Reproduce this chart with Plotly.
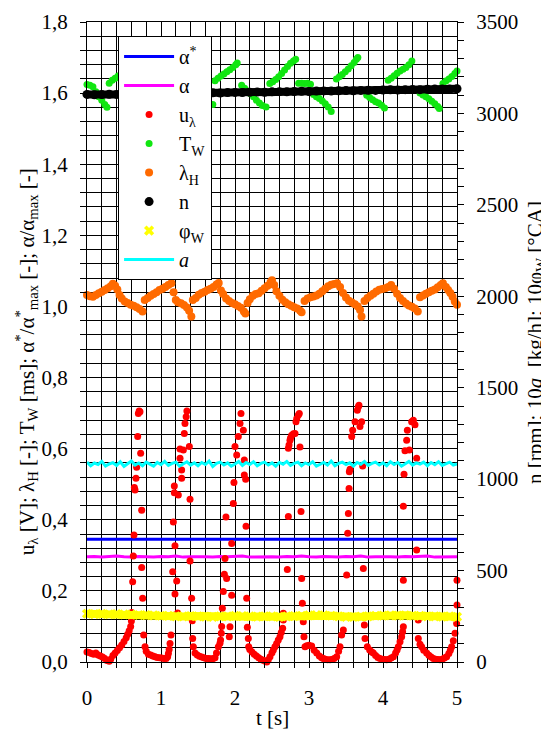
import plotly.graph_objects as go

# ---------------- data ----------------
# alpha* (setpoint) and alpha, left axis [-]
alpha_star = [0.345, 0.345]
alpha = [0.296, 0.297, 0.295, 0.296, 0.298, 0.296, 0.295, 0.297, 0.296, 0.295,
         0.297, 0.296, 0.298, 0.295, 0.296, 0.297, 0.296, 0.295, 0.297, 0.296,
         0.296, 0.298, 0.295, 0.296, 0.297, 0.296, 0.295, 0.297, 0.296, 0.298,
         0.296, 0.295, 0.297, 0.296, 0.295, 0.297, 0.296, 0.298, 0.295, 0.296,
         0.297, 0.296, 0.295, 0.297, 0.296, 0.296, 0.298, 0.295, 0.296, 0.297, 0.296]

# u_lambda [V] (time [s], value)
u_t = [0.00, 0.03, 0.06, 0.09, 0.12, 0.15, 0.18, 0.21, 0.24, 0.27, 0.30, 0.32, 0.35, 0.38, 0.41, 0.44, 0.47, 0.50, 0.53, 0.55, 0.57, 0.59, 0.60,
       0.604, 0.617, 0.626, 0.635, 0.640, 0.649, 0.662, 0.671, 0.685, 0.694, 0.705, 0.716, 0.725, 0.739, 0.739, 0.752, 0.766, 0.784,
       0.80, 0.83, 0.86, 0.89, 0.92, 0.95, 0.98, 1.01, 1.04, 1.07, 1.09, 1.10, 1.11, 1.122, 1.135,
       1.158, 1.167, 1.180, 1.180, 1.189, 1.189, 1.212, 1.225, 1.234, 1.257, 1.257, 1.279, 1.279, 1.302, 1.315, 1.324, 1.340, 1.350, 1.383, 1.392, 1.392, 1.414, 1.423, 1.428,
       1.437, 1.46, 1.49, 1.52, 1.55, 1.58, 1.61, 1.64, 1.67, 1.70, 1.73, 1.75, 1.775, 1.797, 1.805, 1.815, 1.82,
       1.829, 1.842, 1.856, 1.865, 1.878, 1.887, 1.923, 1.932, 1.955, 1.955, 1.977, 1.986, 2.000, 2.023, 2.045, 2.068, 2.081, 2.113, 2.126, 2.126, 2.144, 2.149, 2.158, 2.167, 2.180, 2.185,
       2.20, 2.23, 2.26, 2.29, 2.32, 2.35, 2.38, 2.41, 2.43, 2.45, 2.473, 2.50, 2.518, 2.54, 2.563, 2.585, 2.608, 2.625, 2.644, 2.653, 2.653,
       2.707, 2.721, 2.721, 2.730, 2.743, 2.750, 2.766, 2.790, 2.811, 2.824, 2.835, 2.856, 2.869, 2.878, 2.892, 2.901, 2.910, 2.923, 2.932,
       2.946, 2.97, 3.00, 3.036, 3.07, 3.104, 3.14, 3.17, 3.194, 3.22, 3.25, 3.284, 3.31, 3.34, 3.374, 3.40, 3.419, 3.441, 3.464,
       3.509, 3.523, 3.532, 3.541, 3.545, 3.554, 3.577, 3.590, 3.622, 3.653, 3.667, 3.675, 3.689, 3.712, 3.725, 3.734, 3.748, 3.757,
       3.788, 3.82, 3.85, 3.869, 3.90, 3.93, 3.959, 3.99, 4.02, 4.05, 4.08, 4.11, 4.14, 4.17, 4.19, 4.207, 4.23, 4.252, 4.265, 4.275,
       4.275, 4.275, 4.284, 4.297, 4.320, 4.329, 4.356, 4.387, 4.410, 4.432, 4.455, 4.455, 4.477, 4.477,
       4.50, 4.522, 4.55, 4.59, 4.62, 4.65, 4.68, 4.71, 4.74, 4.77, 4.80, 4.83, 4.86, 4.89, 4.91, 4.928, 4.95, 4.973, 4.995, 5.00, 5.00]
u_v = [0.028, 0.027, 0.024, 0.022, 0.025, 0.020, 0.017, 0.014, 0.010, 0.004, 0.002, 0.008, 0.018, 0.025, 0.032, 0.040, 0.048, 0.058, 0.068, 0.078, 0.088, 0.100, 0.115,
       0.139, 0.226, 0.298, 0.357, 0.491, 0.484, 0.517, 0.548, 0.634, 0.699, 0.706, 0.704, 0.587, 0.427, 0.266, 0.179, 0.076, 0.043,
       0.030, 0.022, 0.020, 0.017, 0.015, 0.013, 0.012, 0.011, 0.010, 0.010, 0.015, 0.024, 0.035, 0.052, 0.076,
       0.254, 0.394, 0.476, 0.495, 0.327, 0.191, 0.228, 0.138, 0.470, 0.599, 0.573, 0.540, 0.517, 0.596, 0.643, 0.671, 0.690, 0.706, 0.606, 0.458, 0.284, 0.179, 0.116, 0.066,
       0.043, 0.025, 0.020, 0.016, 0.014, 0.012, 0.010, 0.010, 0.009, 0.009, 0.012, 0.025, 0.043, 0.053, 0.062, 0.081, 0.100,
       0.151, 0.198, 0.247, 0.291, 0.408, 0.235, 0.071, 0.099, 0.333, 0.188, 0.446, 0.505, 0.606, 0.582, 0.634, 0.671, 0.699, 0.652, 0.568, 0.526, 0.514, 0.382, 0.179, 0.098, 0.066, 0.043,
       0.035, 0.028, 0.022, 0.017, 0.012, 0.008, 0.005, 0.002, 0.000, 0.006, 0.015, 0.026, 0.034, 0.043, 0.052, 0.062, 0.071, 0.083, 0.095, 0.118, 0.137,
       0.260, 0.409, 0.601, 0.610, 0.624, 0.630, 0.638, 0.642, 0.643, 0.676, 0.685, 0.695, 0.699, 0.605, 0.423, 0.235, 0.165, 0.113, 0.071,
       0.043, 0.046, 0.047, 0.045, 0.033, 0.025, 0.017, 0.012, 0.010, 0.008, 0.006, 0.006, 0.007, 0.010, 0.015, 0.030, 0.043, 0.076, 0.090,
       0.245, 0.362, 0.418, 0.488, 0.535, 0.542, 0.634, 0.652, 0.676, 0.708, 0.718, 0.722, 0.662, 0.676, 0.551, 0.263, 0.104, 0.066,
       0.043, 0.034, 0.028, 0.025, 0.018, 0.013, 0.010, 0.008, 0.007, 0.006, 0.008, 0.011, 0.015, 0.025, 0.034, 0.043, 0.057, 0.071, 0.085, 0.099,
       0.230, 0.438, 0.528, 0.594, 0.624, 0.652, 0.596, 0.676, 0.680, 0.667, 0.573, 0.315, 0.118, 0.066,
       0.050, 0.043, 0.033, 0.025, 0.019, 0.014, 0.010, 0.008, 0.007, 0.006, 0.008, 0.011, 0.015, 0.024, 0.033, 0.043, 0.060, 0.081, 0.108, 0.160, 0.230]

# T_W [ms]
tw_t = [0.00, 0.04, 0.08, 0.12, 0.16, 0.20, 0.24, 0.27,
        0.30, 0.34, 0.38, 0.42, 0.46, 0.50, 0.54, 0.58, 0.62,
        0.66, 0.70, 0.74, 0.78, 0.82, 0.86, 0.90,
        0.95, 1.00, 1.05, 1.10, 1.15, 1.20, 1.25, 1.30,
        1.35, 1.40, 1.45, 1.50, 1.55, 1.60, 1.65, 1.70,
        1.73, 1.77, 1.81, 1.85, 1.89, 1.93, 1.97, 2.01, 2.03,
        2.09, 2.13, 2.17, 2.21, 2.25, 2.29, 2.33, 2.37, 2.42,
        2.47, 2.51, 2.55, 2.59, 2.63, 2.67, 2.71, 2.75, 2.79, 2.82,
        2.86, 2.90, 2.94, 2.98, 3.02, 3.06, 3.10, 3.14, 3.18, 3.22, 3.26, 3.30,
        3.37, 3.41, 3.45, 3.49, 3.53, 3.57, 3.61, 3.64, 3.66,
        3.78, 3.82, 3.86, 3.90, 3.94, 3.98, 4.02,
        4.07, 4.11, 4.15, 4.19, 4.23, 4.27, 4.31, 4.35, 4.39,
        4.50, 4.54, 4.58, 4.62, 4.66, 4.70, 4.74, 4.76,
        4.81, 4.85, 4.89, 4.93, 4.97, 5.00]
tw_v = [1.624, 1.622, 1.618, 1.604, 1.590, 1.580, 1.568, 1.560,
        1.628, 1.636, 1.642, 1.648, 1.654, 1.660, 1.668, 1.676, 1.684,
        1.620, 1.612, 1.600, 1.590, 1.580, 1.572, 1.565,
        1.630, 1.637, 1.645, 1.652, 1.660, 1.668, 1.676, 1.685,
        1.622, 1.612, 1.602, 1.592, 1.585, 1.578, 1.572, 1.568,
        1.635, 1.642, 1.648, 1.654, 1.660, 1.666, 1.672, 1.680, 1.685,
        1.622, 1.614, 1.606, 1.598, 1.590, 1.580, 1.572, 1.565, 1.561,
        1.627, 1.632, 1.638, 1.646, 1.655, 1.665, 1.675, 1.684, 1.690, 1.695,
        1.628, 1.628, 1.627, 1.628, 1.625, 1.596, 1.590, 1.585, 1.578, 1.570, 1.561, 1.548,
        1.640, 1.646, 1.652, 1.660, 1.668, 1.677, 1.686, 1.695, 1.700,
        1.594, 1.588, 1.581, 1.576, 1.572, 1.566, 1.558,
        1.636, 1.642, 1.649, 1.656, 1.662, 1.667, 1.672, 1.680, 1.690,
        1.600, 1.595, 1.590, 1.584, 1.577, 1.570, 1.562, 1.557,
        1.627, 1.634, 1.640, 1.647, 1.655, 1.662]

# lambda_H [-]
lh_t = [0.00, 0.04, 0.08, 0.12, 0.16, 0.20, 0.24, 0.28, 0.32, 0.35, 0.38, 0.41, 0.44, 0.47, 0.51, 0.55, 0.59, 0.63, 0.67, 0.71, 0.75,
        0.78, 0.82, 0.86, 0.90, 0.94, 0.98, 1.02, 1.06, 1.10, 1.14,
        1.17, 1.20, 1.23, 1.27, 1.31, 1.35, 1.38, 1.41,
        1.43, 1.47, 1.51, 1.55, 1.59, 1.63, 1.67, 1.71, 1.75, 1.78,
        1.81, 1.84, 1.88, 1.92, 1.96, 2.00, 2.04, 2.08, 2.12, 2.14,
        2.17, 2.20, 2.24, 2.28, 2.32, 2.36, 2.40, 2.44, 2.48, 2.50,
        2.53, 2.56, 2.60, 2.64, 2.68, 2.72, 2.76, 2.80, 2.84, 2.88, 2.90,
        2.94, 2.98, 3.02, 3.06, 3.10, 3.14, 3.18, 3.22, 3.26, 3.30, 3.34, 3.38,
        3.42, 3.46, 3.50, 3.54, 3.58, 3.62, 3.66, 3.69, 3.71,
        3.75, 3.79, 3.83, 3.87, 3.91, 3.95, 3.99, 4.03, 4.07, 4.11,
        4.15, 4.19, 4.23, 4.27, 4.31, 4.35, 4.39, 4.43, 4.47,
        4.50, 4.54, 4.58, 4.62, 4.66, 4.70, 4.74, 4.78, 4.81,
        4.85, 4.88, 4.91, 4.94, 4.97, 5.00]
lh_v = [1.032, 1.029, 1.027, 1.032, 1.037, 1.041, 1.046, 1.051, 1.057, 1.064, 1.058, 1.048, 1.032, 1.022, 1.014, 1.010, 1.005, 1.002, 0.998, 0.993, 0.986,
        1.018, 1.024, 1.030, 1.035, 1.040, 1.046, 1.050, 1.055, 1.060, 1.065,
        1.040, 1.018, 1.012, 1.009, 1.004, 0.997, 0.988, 0.972,
        1.018, 1.024, 1.033, 1.038, 1.041, 1.046, 1.050, 1.055, 1.062, 1.066,
        1.045, 1.035, 1.022, 1.015, 1.010, 1.006, 1.001, 0.996, 0.986, 0.980,
        1.010, 1.020, 1.030, 1.035, 1.037, 1.044, 1.051, 1.058, 1.068, 1.074,
        1.060, 1.043, 1.030, 1.019, 1.012, 1.006, 1.002, 0.998, 0.994, 0.988, 0.984,
        1.015, 1.022, 1.026, 1.028, 1.031, 1.036, 1.043, 1.050, 1.057, 1.061, 1.063, 1.065,
        1.055, 1.038, 1.025, 1.016, 1.011, 1.006, 1.000, 0.990, 0.972,
        1.015, 1.024, 1.030, 1.036, 1.042, 1.047, 1.049, 1.051, 1.055, 1.060,
        1.050, 1.036, 1.024, 1.015, 1.008, 1.003, 0.999, 0.994, 0.986,
        1.026, 1.031, 1.036, 1.040, 1.044, 1.048, 1.054, 1.060, 1.065,
        1.055, 1.046, 1.038, 1.027, 1.014, 1.005]

# n [rpm], right axis (samples every 0.1 s)
n_rpm = [3104, 3102, 3103, 3105, 3104, 3106, 3105, 3107, 3108, 3106,
         3108, 3109, 3110, 3108, 3110, 3112, 3111, 3113, 3112, 3114,
         3115, 3114, 3116, 3117, 3116, 3118, 3119, 3118, 3120, 3121,
         3120, 3122, 3123, 3122, 3124, 3125, 3124, 3126, 3127, 3126,
         3128, 3129, 3128, 3130, 3131, 3130, 3132, 3133, 3134, 3133, 3135]

# 10*phi_W [degCA], right axis (samples every 0.1 s)
phi10 = [264, 262, 263, 261, 262, 260,
         259, 257, 256, 255, 253,
         252, 250, 249, 251, 250,
         248, 247, 249, 250, 252,
         251, 249, 248, 250, 249,
         247, 249, 251, 253, 255,
         256, 255, 253, 250, 247,
         246, 248, 250, 253, 254,
         255, 254, 255, 253, 252,
         250, 249, 248, 249, 247]

# 10*a [kg/h], right axis (samples every 0.05 s)
a10 = [1093, 1073, 1088, 1080, 1097, 1071, 1083, 1090, 1075, 1095, 1070, 1086, 1099, 1077, 1088, 1073, 1093, 1082, 1071, 1091,
       1079, 1097, 1075, 1086, 1093, 1071, 1083, 1095, 1077, 1089, 1073, 1091, 1080, 1099, 1069, 1086, 1093, 1077, 1089, 1071,
       1083, 1097, 1075, 1091, 1080, 1095, 1073, 1086, 1093, 1077, 1089, 1071, 1091, 1082, 1097, 1075, 1086, 1093, 1073, 1089,
       1080, 1095, 1071, 1083, 1091, 1077, 1099, 1073, 1086, 1093, 1080, 1089, 1071, 1091, 1082, 1097, 1075, 1086, 1093, 1077,
       1089, 1073, 1095, 1080, 1091, 1071, 1086, 1097, 1077, 1089, 1082, 1093, 1073, 1091, 1079, 1095, 1075, 1086, 1093, 1077, 1083]

left_ticks = [0.0, 0.2, 0.4, 0.6, 0.8, 1.0, 1.2, 1.4, 1.6, 1.8]
right_ticks = [0, 500, 1000, 1500, 2000, 2500, 3000, 3500]

left_title = ("u<sub>λ</sub> [V]; λ<sub>H</sub> [-]; T<sub>W</sub> [ms]; "
              "α<sup>*</sup>/α<sup>*</sup><sub>max</sub> [-]; α/α<sub>max</sub> [-]")
right_title = "n [rpm]; 10<i>a</i>  [kg/h]; 10φ<sub>W</sub> [°CA]"
x_title = "t [s]"


def even_time(vals):
    return [i * 5.0 / (len(vals) - 1) for i in range(len(vals))]


FONT = "Liberation Serif"

fig = go.Figure()
fig.add_trace(go.Scatter(x=[0, 5], y=alpha_star, mode="lines", name="α<sup>*</sup>",
                         line=dict(color="#0000ff", width=3)))
fig.add_trace(go.Scatter(x=even_time(alpha), y=alpha, mode="lines", name="α",
                         line=dict(color="#ff00ff", width=3)))
fig.add_trace(go.Scatter(x=u_t, y=u_v, mode="markers", name="u<sub>λ</sub>",
                         marker=dict(color="#ff0000", size=7), cliponaxis=False))
fig.add_trace(go.Scatter(x=tw_t, y=tw_v, mode="markers", name="T<sub>W</sub>",
                         marker=dict(color="#11e611", size=7), cliponaxis=False))
fig.add_trace(go.Scatter(x=lh_t, y=lh_v, mode="markers", name="λ<sub>H</sub>",
                         marker=dict(color="#ff6a00", size=8), cliponaxis=False))
fig.add_trace(go.Scatter(x=even_time(n_rpm), y=n_rpm, mode="lines", yaxis="y2",
                         line=dict(color="#000000", width=8), showlegend=False, hoverinfo="skip"))
fig.add_trace(go.Scatter(x=even_time(n_rpm), y=n_rpm, mode="markers", name="n", yaxis="y2",
                         marker=dict(color="#000000", size=9), cliponaxis=False))
fig.add_trace(go.Scatter(x=even_time(phi10), y=phi10, mode="lines", yaxis="y2",
                         line=dict(color="#ffff00", width=8), showlegend=False, hoverinfo="skip"))
fig.add_trace(go.Scatter(x=even_time(phi10), y=phi10, mode="markers", name="φ<sub>W</sub>", yaxis="y2",
                         marker=dict(color="#ffff00", size=9, symbol="x"), cliponaxis=False))
fig.add_trace(go.Scatter(x=even_time(a10), y=a10, mode="lines", name="<i>a</i>", yaxis="y2",
                         line=dict(color="#00ffff", width=3)))

axis_common = dict(showline=True, linecolor="black", linewidth=1, ticks="outside",
                   tickcolor="black", tickfont=dict(family=FONT, size=21, color="black"),
                   zeroline=False, automargin=False)

fig.update_layout(
    width=541, height=723,
    margin=dict(l=79, r=92, t=14, b=69, autoexpand=False),
    paper_bgcolor="white", plot_bgcolor="white",
    separators=",.",
    font=dict(family=FONT, size=20, color="black"),
    showlegend=True,
    legend=dict(x=0.084, y=0.978, xanchor="left", yanchor="top",
                bgcolor="white", bordercolor="black", borderwidth=1,
                font=dict(family=FONT, size=20, color="black"), itemwidth=50,
                tracegroupgap=0),
    xaxis=dict(range=[0, 5], dtick=1, tick0=0, ticklen=5, showgrid=True, gridcolor="black", gridwidth=1,
               mirror=True,
               minor=dict(dtick=0.2, tick0=0, showgrid=True, gridcolor="black", gridwidth=1,
                          ticks="outside", ticklen=5, tickcolor="black"),
               ticklabelstandoff=12,
               **axis_common),
    yaxis=dict(range=[0, 1.8], tickvals=left_ticks, tickformat=".1f", ticklen=6,
               showgrid=True, gridcolor="black", gridwidth=1,
               minor=dict(dtick=0.04, tick0=0, showgrid=True, gridcolor="black", gridwidth=1,
                          ticks="outside", ticklen=6, tickcolor="black"),
               ticklabelstandoff=8,
               **axis_common),
    yaxis2=dict(range=[0, 3500], tickvals=right_ticks, overlaying="y", side="right", ticklen=6,
                showgrid=False,
                minor=dict(dtick=100, tick0=0, showgrid=False, ticks="outside", ticklen=6, tickcolor="black"),
                ticklabelstandoff=8,
                **axis_common),
    annotations=[
        dict(text=left_title, xref="paper", yref="paper", x=-0.165, y=0.47,
             xanchor="center", yanchor="middle", textangle=-90, showarrow=False,
             font=dict(family=FONT, size=21, color="black")),
        dict(text=right_title, xref="paper", yref="paper", x=1.2135, y=0.5,
             xanchor="center", yanchor="middle", textangle=-90, showarrow=False,
             font=dict(family=FONT, size=21, color="black")),
        dict(text=x_title, xref="paper", yref="paper", x=0.5, y=-0.0875,
             xanchor="center", yanchor="middle", showarrow=False,
             font=dict(family=FONT, size=21, color="black")),
    ],
)

fig.write_html("out.html")
